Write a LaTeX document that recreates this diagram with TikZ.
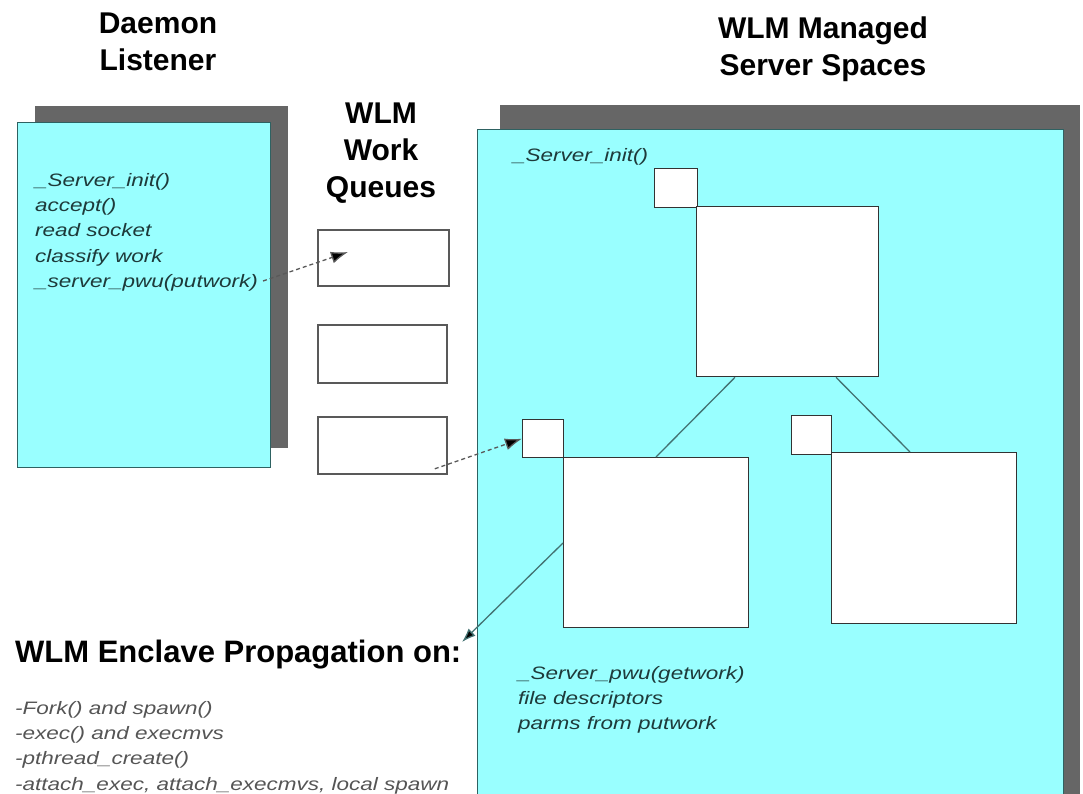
\documentclass[tikz,border=0pt]{standalone}
\usepackage{fontspec}
\setmainfont{Liberation Sans}
\newfontfamily\widefont[FakeStretch=1.25]{Liberation Sans}
\usetikzlibrary{calc,arrows.meta}
\definecolor{cyanf}{HTML}{99FFFF}
\definecolor{shad}{HTML}{666666}
\definecolor{tealline}{HTML}{2E6262}
\definecolor{tealtext}{HTML}{1E3A3A}
\definecolor{graytext}{HTML}{555555}
\begin{document}
\begin{tikzpicture}[x=1pt,y=-1pt,
  panel/.style={draw=tealline, line width=1.2pt, fill=cyanf, inner sep=0pt, anchor=north west},
  shadowbox/.style={fill=shad, draw=none, inner sep=0pt, anchor=north west},
  queue/.style={draw=black!65, line width=1.8pt, fill=white, inner sep=0pt, anchor=north west},
  proc/.style={draw=black!80, line width=1.3pt, fill=white, inner sep=0pt, anchor=north west},
  title/.style={font=\fontsize{30}{37}\selectfont\bfseries, align=center, inner sep=0pt, anchor=north},
  code/.style={font=\widefont\itshape\fontsize{18}{25.3}\selectfont, align=left, inner sep=0pt, anchor=north west, text=tealtext},
  dasharrow/.style={dash pattern=on 4pt off 3pt, line width=1.3pt, draw=black!65, -{Latex[length=17pt,width=12pt,fill=black]}},
  link/.style={draw=tealline!90, line width=1.3pt}
]
\useasboundingbox (0,0) rectangle (1083,793);

% titles
\node[title] (tdaemon) at (158,13) {Daemon\\Listener};
\node[title] (tqueues) at (381,103) {WLM\\Work\\Queues};
\node[title] (tmanaged) at (823,17) {WLM Managed\\Server Spaces};

% daemon listener panel
\node[shadowbox, minimum width=253pt, minimum height=342pt] (lshadow) at (35,106) {};
\node[panel, minimum width=253pt, minimum height=345pt] (lpanel) at (17,122) {};
\node[code] (ltext) at (35,173) {\_Server\_init()\\accept()\\read socket\\classify work\\\_server\_pwu(putwork)};

% work queues
\node[queue, minimum width=131pt, minimum height=56pt] (q1) at (317,229) {};
\node[queue, minimum width=129pt, minimum height=58pt] (q2) at (317,324) {};
\node[queue, minimum width=129pt, minimum height=57pt] (q3) at (317,416) {};

% managed server spaces panel
\node[shadowbox, minimum width=580pt, minimum height=720pt] (rshadow) at (500,105) {};
\node[panel, minimum width=586pt, minimum height=700pt] (rpanel) at (477,129) {};
\node[code] (rinit) at (513,148) {\_Server\_init()};

\node[proc, minimum width=43pt, minimum height=39pt] (s0) at (654,168) {};
\node[proc, minimum width=182pt, minimum height=170pt] (t0) at (696,206) {};
\node[proc, minimum width=41pt, minimum height=38pt] (sL) at (522,419) {};
\node[proc, minimum width=185pt, minimum height=170pt] (bL) at (563,457) {};
\node[proc, minimum width=40pt, minimum height=39pt] (sR) at (791,415) {};
\node[proc, minimum width=185pt, minimum height=171pt] (bR) at (831,452) {};

\node[code] (rtext) at (518,666) {\_Server\_pwu(getwork)\\file descriptors\\parms from putwork};

% enclave text
\node[font=\fontsize{31}{37}\selectfont\bfseries, inner sep=0pt, anchor=north west] (enclave) at (15,640) {WLM Enclave Propagation on:};
\node[code, text=graytext] (list) at (15,701) {-Fork() and spawn()\\-exec() and execmvs\\-pthread\_create()\\-attach\_exec, attach\_execmvs, local spawn};

% connectors
\coordinate (putend) at (263,281);
\coordinate (q1tip) at (348,252);
\coordinate (enctip) at (462,642);
\draw[dasharrow] (putend) -- (q1tip);
\draw[dasharrow] ($(q3.south east)+(-13,-6)$) -- (sL.west);
\draw[link] ($(t0.south west)+(39,0)$) -- ($(bL.north west)+(93,0)$);
\draw[link] ($(t0.south west)+(140,0)$) -- ($(bR.north west)+(79,0)$);
\draw[link, -{Latex[length=14pt,width=10pt,fill=black]}] ($(bL.north west)+(0,86)$) -- (enctip);
\end{tikzpicture}
\end{document}
